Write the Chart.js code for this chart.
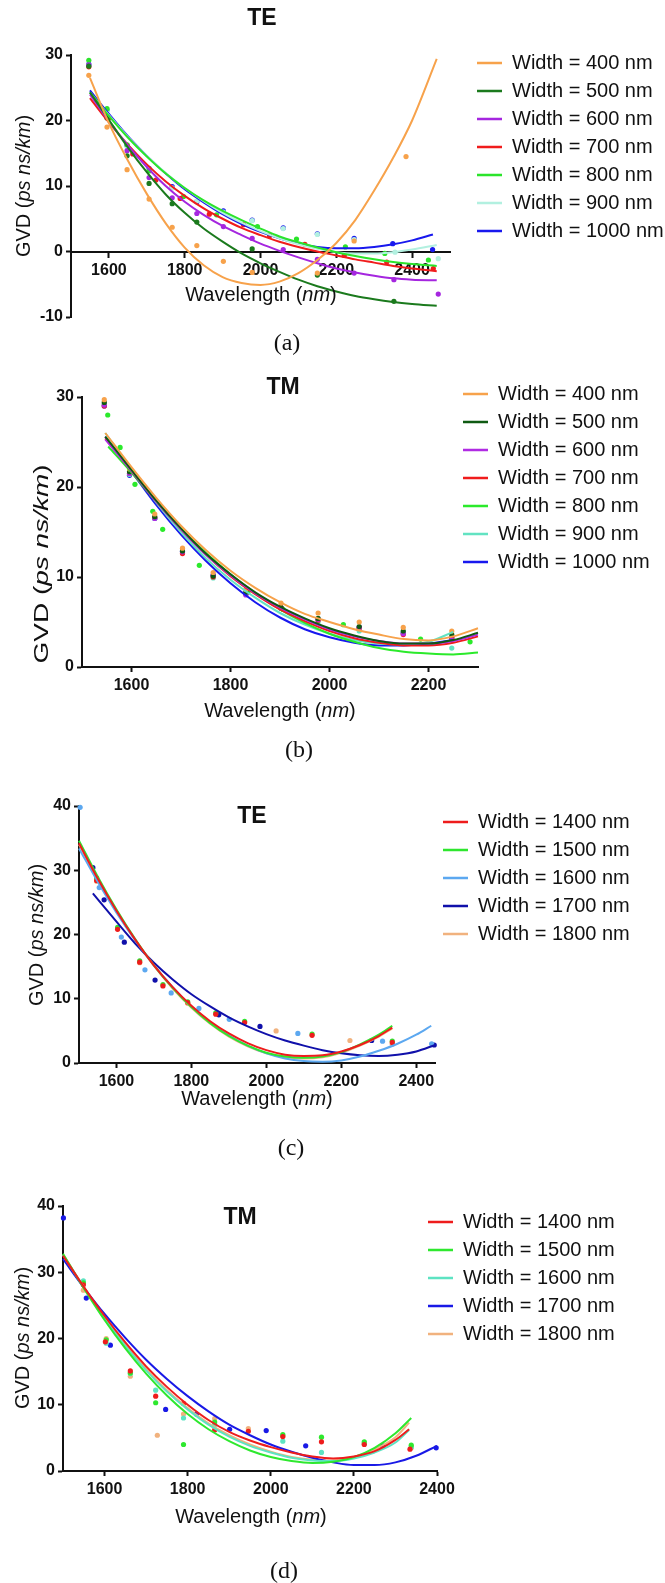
<!DOCTYPE html>
<html lang="en">
<head>
<meta charset="UTF-8">
<title>GVD vs wavelength, TE / TM</title>
<script src="https://cdn.jsdelivr.net/npm/chart.js"></script>
<style>
  body { margin: 0; background: #fff; }
  #page { position: relative; width: 665px; height: 1583px; overflow: hidden; }
  canvas { position: absolute; left: 0; }
  .cap {
    position: absolute;
    font-family: "Liberation Serif", "Times New Roman", serif;
    font-size: 24px;
    color: #111;
    transform: translate(-50%, -50%);
    white-space: nowrap;
  }
</style>
</head>
<body>
<div id="page">
  <canvas id="chartA" width="665" height="340" style="top:0px"></canvas>
  <canvas id="chartB" width="665" height="400" style="top:340px"></canvas>
  <canvas id="chartC" width="665" height="360" style="top:760px"></canvas>
  <canvas id="chartD" width="665" height="400" style="top:1160px"></canvas>
  <div class="cap" style="left:287px;top:342px">(a)</div>
  <div class="cap" style="left:299px;top:749px">(b)</div>
  <div class="cap" style="left:291px;top:1147px">(c)</div>
  <div class="cap" style="left:284px;top:1570px">(d)</div>
</div>

<script>
  // ---------- (a) TE, widths 400..1000 nm ----------
  const widthsA = [400, 500, 600, 700, 800, 900, 1000];
  const colorsA = ['#F7A24B', '#1B7A1D', '#A526DF', '#F01C1C', '#2BE42B', '#B2F0E0', '#1818EE'];
  const xTicksA = [1600, 1800, 2000, 2200, 2400];
  const yTicksA = [-10, 0, 10, 20, 30];

  const ptsA400 = [[1547,26.9],[1595,19.0],[1648,12.5],[1706,8.0],[1767,3.7],[1832,0.9],[1902,-1.5],[1978,-3.2],[2150,-3.3],[2247,1.6],[2384,14.5]];
  const ptsA500 = [[1547,28.3],[1595,20.4],[1648,14.6],[1706,10.4],[1767,7.3],[1832,4.5],[1978,0.4],[2150,-3.6],[2352,-7.6]];
  const ptsA600 = [[1547,28.5],[1595,20.9],[1648,15.4],[1706,11.3],[1767,8.2],[1832,5.8],[1902,3.8],[1978,2.0],[2060,0.3],[2150,-1.2],[2247,-3.3],[2352,-4.3],[2469,-6.5]];
  const ptsA700 = [[1547,28.2],[1600,20.4],[1663,14.9],[1724,10.9],[1788,8.1],[1865,5.7],[1955,4.1],[2024,2.4],[2117,1.1],[2221,-0.6],[2333,-1.6],[2456,-2.6]];
  const ptsA800 = [[1547,29.2],[1595,21.8],[1648,16.3],[1706,12.3],[1797,8.4],[1884,5.6],[1992,3.8],[2095,1.9],[2224,0.7],[2328,-0.3],[2443,-1.3]];
  const ptsA900 = [[1547,28.5],[1595,21.5],[1648,16.0],[1706,12.6],[1767,9.7],[1832,7.7],[1902,6.0],[1978,4.7],[2060,3.5],[2150,2.6],[2247,1.8],[2355,-0.1],[2469,-1.1]];
  const ptsA1000 = [[1547,28.6],[1595,21.6],[1648,16.2],[1706,12.7],[1767,9.9],[1832,7.6],[1902,6.2],[1978,4.8],[2060,3.6],[2150,2.7],[2247,2.0],[2349,1.2],[2454,0.3]];

  const fitA400 = [[1550,26.5],[1600,19.6],[1650,13.9],[1700,8.8],[1750,4.3],[1800,0.6],[1850,-2.1],[1900,-3.9],[1950,-4.8],[2000,-5.1],[2050,-4.6],[2100,-3.3],[2150,-1.3],[2200,1.3],[2250,4.8],[2300,9.3],[2350,14.3],[2400,20.0],[2465,29.4]];
  const fitA500 = [[1550,24.3],[1600,20.1],[1650,15.9],[1700,12.1],[1750,8.7],[1800,5.9],[1850,3.5],[1900,1.5],[1950,-0.3],[2000,-1.8],[2050,-3.1],[2100,-4.3],[2150,-5.3],[2200,-6.1],[2250,-6.8],[2300,-7.3],[2350,-7.7],[2400,-8.0],[2465,-8.3]];
  const fitA600 = [[1550,24.0],[1600,19.9],[1650,16.2],[1700,12.9],[1750,10.0],[1800,7.6],[1850,5.6],[1900,3.9],[1950,2.5],[2000,1.2],[2050,0.1],[2100,-0.9],[2150,-1.8],[2200,-2.6],[2250,-3.2],[2300,-3.7],[2350,-4.1],[2400,-4.3],[2465,-4.4]];
  const fitA700 = [[1550,23.4],[1600,19.7],[1650,16.3],[1700,13.3],[1750,10.7],[1800,8.5],[1850,6.6],[1900,5.0],[1950,3.6],[2000,2.5],[2050,1.5],[2100,0.7],[2150,0.0],[2200,-0.6],[2250,-1.2],[2300,-1.7],[2350,-2.2],[2400,-2.6],[2465,-3.0]];
  const fitA800 = [[1550,24.3],[1600,20.7],[1650,17.4],[1700,14.5],[1750,11.9],[1800,9.7],[1850,7.8],[1900,6.2],[1950,4.8],[2000,3.5],[2050,2.3],[2100,1.4],[2150,0.6],[2200,-0.1],[2250,-0.7],[2300,-1.2],[2350,-1.6],[2400,-1.9],[2465,-2.2]];
  const fitA900 = [[1550,24.3],[1600,20.8],[1650,17.5],[1700,14.6],[1750,12.0],[1800,9.7],[1850,7.7],[1900,5.9],[1950,4.4],[2000,3.1],[2050,2.0],[2100,1.1],[2150,0.4],[2200,-0.1],[2250,-0.3],[2300,-0.3],[2350,-0.1],[2400,0.3],[2465,1.0]];
  const fitA1000 = [[1550,24.6],[1600,21.0],[1650,17.6],[1700,14.6],[1750,11.9],[1800,9.5],[1850,7.5],[1900,5.7],[1950,4.2],[2000,3.0],[2050,2.0],[2100,1.2],[2150,0.7],[2200,0.5],[2250,0.5],[2300,0.7],[2350,1.1],[2400,1.7],[2455,2.6]];

  // ---------- (b) TM, widths 400..1000 nm ----------
  const widthsB = [400, 500, 600, 700, 800, 900, 1000];
  const colorsB = ['#F7A24B', '#0F5A12', '#B02BE3', '#F01C1C', '#2BEA2B', '#62E3C2', '#1818EE'];
  const xTicksB = [1600, 1800, 2000, 2200];
  const yTicksB = [0, 10, 20, 30];

  const ptsB400 = [[1545,29.7],[1596,22.0],[1647,17.0],[1703,13.2],[1765,10.5],[1831,8.6],[1902,7.1],[1977,6.0],[2060,5.0],[2149,4.4],[2247,4.0]];
  const ptsB500 = [[1545,29.4],[1596,21.7],[1647,16.7],[1703,12.9],[1765,10.1],[1831,8.3],[1902,6.6],[1977,5.4],[2060,4.5],[2149,4.0],[2247,3.6]];
  const ptsB600 = [[1545,29.1],[1596,21.5],[1647,16.5],[1703,12.8],[1765,10.2],[1831,8.0],[1902,6.5],[1977,5.3],[2060,4.4],[2149,3.7],[2247,3.0]];
  const ptsB700 = [[1545,29.0],[1596,21.5],[1647,16.6],[1703,12.6],[1765,10.0],[1831,8.1],[1902,6.6],[1977,5.2],[2060,4.3],[2149,3.6],[2247,3.2]];
  const ptsB800 = [[1552,28.0],[1577,24.4],[1607,20.3],[1643,17.3],[1663,15.3],[1737,11.3],[1835,8.3],[1906,6.4],[2028,4.7],[2184,3.1],[2284,2.8]];
  const ptsB900 = [[1545,29.2],[1596,21.4],[1647,16.5],[1703,12.8],[1765,9.9],[1831,8.1],[1902,6.5],[1977,5.0],[2060,4.0],[2149,3.8],[2247,2.1]];
  const ptsB1000 = [[1545,29.0],[1596,21.3],[1647,16.5],[1703,12.8],[1765,10.2],[1831,8.2],[1902,6.6],[1977,5.3],[2060,4.4],[2149,3.8],[2247,3.3]];

  const fitB400 = [[1547,26.0],[1600,22.2],[1650,18.8],[1700,15.7],[1750,13.0],[1800,10.7],[1850,8.8],[1900,7.2],[1950,5.9],[2000,5.0],[2050,4.2],[2100,3.6],[2150,3.1],[2200,2.95],[2250,3.4],[2300,4.3]];
  const fitB500 = [[1547,25.6],[1600,21.9],[1650,18.5],[1700,15.4],[1750,12.6],[1800,10.3],[1850,8.3],[1900,6.7],[1950,5.4],[2000,4.3],[2050,3.5],[2100,2.9],[2150,2.6],[2200,2.6],[2250,3.0],[2300,3.8]];
  const fitB600 = [[1547,25.3],[1600,21.8],[1650,18.4],[1700,15.3],[1750,12.5],[1800,10.2],[1850,8.2],[1900,6.6],[1950,5.3],[2000,4.2],[2050,3.4],[2100,2.9],[2150,2.6],[2200,2.6],[2250,2.9],[2300,3.6]];
  const fitB700 = [[1547,25.4],[1600,21.8],[1650,18.4],[1700,15.3],[1750,12.5],[1800,10.1],[1850,8.1],[1900,6.4],[1950,5.1],[2000,4.0],[2050,3.2],[2100,2.7],[2150,2.4],[2200,2.4],[2250,2.7],[2300,3.4]];
  const fitB800 = [[1553,24.5],[1600,21.6],[1650,18.4],[1700,15.4],[1750,12.7],[1800,10.3],[1850,8.2],[1900,6.4],[1950,4.9],[2000,3.7],[2050,2.8],[2100,2.1],[2150,1.7],[2200,1.5],[2250,1.4],[2300,1.6]];
  const fitB900 = [[1547,26.0],[1600,22.0],[1650,18.3],[1700,15.0],[1750,12.1],[1800,9.7],[1850,7.7],[1900,6.0],[1950,4.7],[2000,3.7],[2050,3.0],[2100,2.6],[2150,2.5],[2200,2.8],[2250,3.9]];
  const fitB1000 = [[1547,25.6],[1600,21.7],[1650,18.0],[1700,14.7],[1750,11.8],[1800,9.3],[1850,7.2],[1900,5.5],[1950,4.2],[2000,3.3],[2050,2.7],[2100,2.4],[2150,2.4],[2200,2.6],[2250,3.0]];

  // ---------- (c) TE, widths 1400..1800 nm ----------
  const widthsC = [1400, 1500, 1600, 1700, 1800];
  const colorsC = ['#EE1C1C', '#2EE62E', '#5CA8F0', '#1010AA', '#F1B27E'];
  const xTicksC = [1600, 1800, 2000, 2200, 2400];
  const yTicksC = [0, 10, 20, 30, 40];

  const ptsC1400 = [[1547,28.4],[1603,20.8],[1662,15.7],[1724,12.0],[1790,9.4],[1865,7.6],[1942,6.3],[2122,4.3],[2336,3.2]];
  const ptsC1500 = [[1547,28.8],[1603,21.1],[1662,15.9],[1724,12.2],[1790,9.5],[1865,7.8],[1942,6.5],[2122,4.5],[2336,3.4]];
  const ptsC1600 = [[1503,39.8],[1554,27.3],[1613,19.6],[1676,14.5],[1746,10.9],[1820,8.5],[1901,6.8],[2084,4.6],[2310,3.4],[2441,3.0]];
  const ptsC1700 = [[1537,30.4],[1567,25.4],[1621,18.8],[1703,12.9],[1873,7.5],[1983,5.7],[2281,3.5],[2448,2.8]];
  const ptsC1800 = [[1547,28.3],[1662,15.6],[1790,9.3],[2026,5.0],[2223,3.5],[2336,2.9]];

  const fitC1400 = [[1500,34.2],[1550,28.7],[1600,23.7],[1650,19.2],[1700,15.2],[1750,11.8],[1800,8.9],[1850,6.5],[1900,4.6],[1950,3.1],[2000,2.0],[2050,1.3],[2100,1.1],[2150,1.2],[2200,1.8],[2250,2.8],[2300,4.2],[2336,5.5]];
  const fitC1500 = [[1500,34.6],[1550,29.0],[1600,23.9],[1650,19.3],[1700,15.2],[1750,11.7],[1800,8.7],[1850,6.2],[1900,4.2],[1950,2.7],[2000,1.6],[2050,1.0],[2100,0.8],[2150,1.0],[2200,1.7],[2250,2.9],[2300,4.4],[2336,5.8]];
  const fitC1600 = [[1500,33.4],[1550,28.2],[1600,23.4],[1650,19.1],[1700,15.2],[1750,11.8],[1800,8.8],[1850,6.3],[1900,4.3],[1950,2.7],[2000,1.5],[2050,0.7],[2100,0.3],[2150,0.2],[2200,0.4],[2250,1.0],[2300,1.9],[2350,3.0],[2400,4.4],[2440,5.8]];
  const fitC1700 = [[1537,26.4],[1600,22.0],[1650,18.6],[1700,15.6],[1750,13.0],[1800,10.7],[1850,8.8],[1900,7.1],[1950,5.7],[2000,4.5],[2050,3.5],[2100,2.7],[2150,2.0],[2200,1.5],[2250,1.2],[2300,1.1],[2350,1.3],[2400,1.8],[2450,2.8]];
  const fitC1800 = [[1500,34.0],[1550,28.6],[1600,23.6],[1650,19.1],[1700,15.1],[1750,11.6],[1800,8.6],[1850,6.1],[1900,4.1],[1950,2.6],[2000,1.5],[2050,0.9],[2100,0.7],[2150,0.9],[2200,1.6],[2250,2.7],[2300,4.1],[2336,5.4]];

  // ---------- (d) TM, widths 1400..1800 nm ----------
  const widthsD = [1400, 1500, 1600, 1700, 1800];
  const colorsD = ['#EE1C1C', '#2EE82E', '#5DE3C2', '#1919E6', '#F1B27E'];
  const xTicksD = [1600, 1800, 2000, 2200, 2400];
  const yTicksD = [0, 10, 20, 30, 40];

  const ptsD1400 = [[1549,28.1],[1602,19.5],[1662,15.1],[1723,11.3],[1790,10.2],[1865,6.2],[1946,6.0],[2029,5.2],[2122,4.4],[2225,4.0],[2335,3.3]];
  const ptsD1500 = [[1549,28.4],[1604,19.8],[1662,14.8],[1723,10.3],[1790,4.0],[1865,7.4],[2029,5.5],[2122,5.1],[2225,4.4],[2338,3.9]];
  const ptsD1600 = [[1549,28.7],[1604,19.3],[1662,14.7],[1723,12.2],[1790,8.0],[1865,7.0],[2029,4.5],[2122,2.8],[2225,4.1],[2338,3.6]];
  const ptsD1700 = [[1501,38.2],[1556,26.1],[1614,19.0],[1747,9.3],[1821,8.6],[1901,6.3],[1989,6.1],[2084,3.8],[2269,3.8],[2398,3.5]];
  const ptsD1800 = [[1549,27.3],[1604,20.0],[1662,14.3],[1727,5.4],[1790,8.6],[1865,7.9],[1946,6.4],[2029,5.3],[2225,4.2],[2338,3.5]];

  const fitD1400 = [[1500,32.5],[1550,27.8],[1600,23.4],[1650,19.4],[1700,15.8],[1750,12.7],[1800,10.0],[1850,7.7],[1900,5.9],[1950,4.6],[2000,3.6],[2050,2.8],[2100,2.2],[2150,1.9],[2200,2.2],[2250,3.0],[2300,4.7],[2333,6.3]];
  const fitD1500 = [[1500,32.8],[1550,27.6],[1600,22.8],[1650,18.5],[1700,14.7],[1750,11.4],[1800,8.6],[1850,6.3],[1900,4.5],[1950,3.1],[2000,2.1],[2050,1.5],[2100,1.2],[2150,1.4],[2200,2.1],[2250,3.5],[2300,5.7],[2338,8.0]];
  const fitD1600 = [[1500,32.6],[1550,27.7],[1600,23.0],[1650,18.9],[1700,15.2],[1750,12.0],[1800,9.3],[1850,7.0],[1900,5.2],[1950,3.8],[2000,2.8],[2050,2.0],[2100,1.6],[2150,1.5],[2200,1.9],[2250,2.8],[2300,4.3],[2333,6.2]];
  const fitD1700 = [[1500,32.0],[1550,27.7],[1600,23.7],[1650,20.1],[1700,16.8],[1750,13.9],[1800,11.3],[1850,9.0],[1900,7.0],[1950,5.4],[2000,4.0],[2050,2.9],[2100,2.0],[2150,1.3],[2200,0.9],[2250,0.9],[2300,1.3],[2350,2.3],[2400,3.8]];
  const fitD1800 = [[1500,32.7],[1550,27.8],[1600,23.2],[1650,19.1],[1700,15.4],[1750,12.2],[1800,9.5],[1850,7.2],[1900,5.4],[1950,4.0],[2000,2.9],[2050,2.1],[2100,1.7],[2150,1.6],[2200,2.1],[2250,3.3],[2300,5.1],[2333,7.3]];

  // ---------- helpers ----------
  const FONT = '"Liberation Sans", Arial, Helvetica, sans-serif';
  const INK = '#111';
  const LEG_FONT = 20;
  const LEG_PAD = 8;
  const X_AXIS_H = 40;   // room kept under the plot for x tick labels
  Chart.defaults.font.family = FONT;
  Chart.defaults.color = INK;

  function xy(arr) {
    return arr.map(p => ({ x: p[0], y: p[1] }));
  }

  // titles with italic pieces, e.g. "GVD (" + italic "ps ns/km" + ")"
  function richText(items) {
    return {
      id: 'richText',
      afterDraw(chart) {
        const ctx = chart.ctx;
        items.forEach(it => {
          ctx.save();
          ctx.translate(it.x, it.y);
          if (it.rot) ctx.rotate(it.rot);
          if (it.sx) ctx.scale(it.sx, 1);
          ctx.fillStyle = INK;
          ctx.textBaseline = 'middle';
          ctx.textAlign = 'left';
          const fonts = it.parts.map(p => (p[1] ? 'italic ' : '') + (it.bold ? 'bold ' : '') + it.size + 'px ' + FONT);
          let total = 0;
          it.parts.forEach((p, i) => { ctx.font = fonts[i]; total += ctx.measureText(p[0]).width; });
          let x = -total / 2;
          it.parts.forEach((p, i) => {
            ctx.font = fonts[i];
            ctx.fillText(p[0], x, 0);
            x += ctx.measureText(p[0]).width;
          });
          ctx.restore();
        });
      }
    };
  }

  // move the built-in legend to where the figure has it
  function placeLegend(lineX, firstRowY) {
    return {
      id: 'placeLegend',
      afterLayout(chart) {
        const lg = chart.legend;
        if (!lg) return;
        lg.left = lineX - LEG_PAD;
        lg.top = firstRowY - LEG_FONT / 2 - LEG_PAD;
        lg.right = lg.left + lg.width;
        lg.bottom = lg.top + 1000;
      }
    };
  }

  function axisTitles(p) {
    return [
      { x: p.title[0], y: p.title[1], size: 23, bold: true, parts: [[p.title[2], false]] },
      { x: p.yLab[0], y: p.yLab[1], size: 20, rot: -Math.PI / 2, sx: p.yLab[2] || 1,
        parts: [['GVD (', false], ['ps ns/km', true], [')', false]] },
      { x: p.xLab[0], y: p.xLab[1], size: 20, parts: [['Wavelength (', false], ['nm', true], [')', false]] }
    ];
  }

  // p.area = [left, right, top, bottom] of the plot inside its canvas
  function buildPanel(canvasId, p) {
    const canvas = document.getElementById(canvasId);
    const [aL, aR, aT, aB] = p.area;
    const floatingX = typeof p.xPos === 'object';
    const xH = floatingX ? 0 : X_AXIS_H;

    const datasets = [];
    p.widths.forEach((w, i) => {
      datasets.push({
        label: 'Width = ' + w + ' nm',
        data: xy(p.fits[i]),
        borderColor: p.colors[i],
        backgroundColor: p.colors[i],
        showLine: true,
        borderWidth: 2,
        pointRadius: 0,
        pointBorderWidth: 2.5,
        pointStyle: 'line',
        cubicInterpolationMode: 'monotone',
        clip: false,
        fit: true
      });
    });
    p.widths.forEach((w, i) => {
      datasets.push({
        label: 'Width = ' + w + ' nm (data)',
        data: xy(p.pts[i]),
        borderColor: p.colors[i],
        backgroundColor: p.colors[i],
        showLine: false,
        pointRadius: 2.6,
        pointBorderWidth: 0,
        clip: false,
        fit: false
      });
    });

    const tickFont = { size: 16, weight: 'bold' };
    const grid = { drawOnChartArea: false, drawTicks: true, tickLength: 5, tickWidth: 2, tickColor: INK };
    const border = { color: INK, width: 2 };

    return new Chart(canvas, {
      type: 'scatter',
      data: { datasets },
      options: {
        responsive: false,
        animation: false,
        events: [],
        layout: {
          padding: { left: 0, top: aT, right: canvas.width - aR, bottom: canvas.height - aB - xH }
        },
        scales: {
          x: {
            type: 'linear',
            min: p.xRange[0],
            max: p.xRange[1],
            position: p.xPos || 'bottom',
            afterFit: s => { s.height = xH; },
            afterBuildTicks: s => { s.ticks = p.xTicks.map(v => ({ value: v })); },
            grid, border,
            ticks: { font: tickFont, color: INK, padding: 4, maxRotation: 0, autoSkip: false, callback: v => String(v) }
          },
          y: {
            type: 'linear',
            min: p.yRange[0],
            max: p.yRange[1],
            afterFit: s => { s.width = aL; },
            afterBuildTicks: s => { s.ticks = p.yTicks.map(v => ({ value: v })); },
            grid, border,
            ticks: { font: tickFont, color: INK, padding: 3, autoSkip: false, callback: v => String(v) }
          }
        },
        plugins: {
          legend: {
            position: 'chartArea',
            align: 'start',
            labels: {
              usePointStyle: true,
              pointStyle: 'line',
              pointStyleWidth: 25,
              padding: LEG_PAD,
              color: INK,
              font: { size: LEG_FONT },
              filter: (item, data) => data.datasets[item.datasetIndex].fit
            }
          },
          tooltip: { enabled: false }
        }
      },
      plugins: [placeLegend(p.legend[0], p.legend[1]), richText(axisTitles(p))]
    });
  }

  // ---------- panels ----------
  buildPanel('chartA', {
    widths: widthsA, colors: colorsA,
    pts: [ptsA400, ptsA500, ptsA600, ptsA700, ptsA800, ptsA900, ptsA1000],
    fits: [fitA400, fitA500, fitA600, fitA700, fitA800, fitA900, fitA1000],
    xRange: [1500, 2500], yRange: [-10, 30], xTicks: xTicksA, yTicks: yTicksA,
    xPos: { y: 0 },
    area: [71, 450, 55, 317],
    legend: [477, 63],
    title: [262, 19, 'TE'], yLab: [24, 186], xLab: [261, 295]
  });

  buildPanel('chartB', {
    widths: widthsB, colors: colorsB,
    pts: [ptsB400, ptsB500, ptsB600, ptsB700, ptsB800, ptsB900, ptsB1000],
    fits: [fitB400, fitB500, fitB600, fitB700, fitB800, fitB900, fitB1000],
    xRange: [1500, 2300], yRange: [0, 30], xTicks: xTicksB, yTicks: yTicksB,
    area: [82, 478, 57, 327],
    legend: [463, 54],
    title: [283, 48, 'TM'], yLab: [42, 224, 1.4], xLab: [280, 371]
  });

  buildPanel('chartC', {
    widths: widthsC, colors: colorsC,
    pts: [ptsC1400, ptsC1500, ptsC1600, ptsC1700, ptsC1800],
    fits: [fitC1400, fitC1500, fitC1600, fitC1700, fitC1800],
    xRange: [1500, 2450], yRange: [0, 40], xTicks: xTicksC, yTicks: yTicksC,
    area: [79, 435, 46, 303],
    legend: [443, 62],
    title: [252, 57, 'TE'], yLab: [37, 175], xLab: [257, 339]
  });

  buildPanel('chartD', {
    widths: widthsD, colors: colorsD,
    pts: [ptsD1400, ptsD1500, ptsD1600, ptsD1700, ptsD1800],
    fits: [fitD1400, fitD1500, fitD1600, fitD1700, fitD1800],
    xRange: [1500, 2400], yRange: [0, 40], xTicks: xTicksD, yTicks: yTicksD,
    area: [63, 437, 46, 311],
    legend: [428, 62],
    title: [240, 58, 'TM'], yLab: [23, 178], xLab: [251, 357]
  });
</script>
</body>
</html>
